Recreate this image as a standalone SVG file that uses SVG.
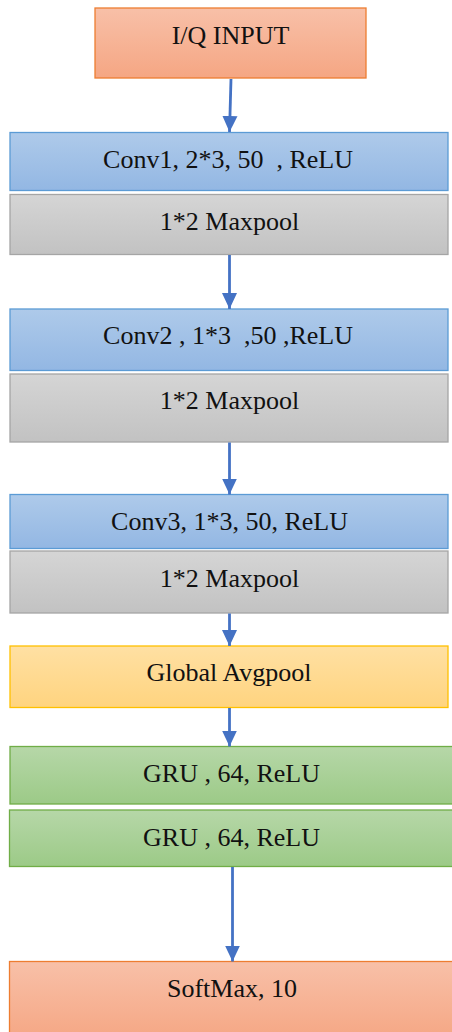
<svg xmlns="http://www.w3.org/2000/svg" width="452" height="1032" viewBox="0 0 452 1032">
<defs>
<linearGradient id="gOrange" x1="0" y1="0" x2="0" y2="1"><stop offset="0" stop-color="#F8C0A8"/><stop offset="1" stop-color="#F5A683"/></linearGradient>
<linearGradient id="gBlue" x1="0" y1="0" x2="0" y2="1"><stop offset="0" stop-color="#AECAEA"/><stop offset="1" stop-color="#93B7E3"/></linearGradient>
<linearGradient id="gGray" x1="0" y1="0" x2="0" y2="1"><stop offset="0" stop-color="#D5D5D5"/><stop offset="1" stop-color="#C2C2C2"/></linearGradient>
<linearGradient id="gYellow" x1="0" y1="0" x2="0" y2="1"><stop offset="0" stop-color="#FFE0A3"/><stop offset="1" stop-color="#FFD47F"/></linearGradient>
<linearGradient id="gGreen" x1="0" y1="0" x2="0" y2="1"><stop offset="0" stop-color="#B6D7A8"/><stop offset="1" stop-color="#9CCA87"/></linearGradient>
<marker id="arr" markerUnits="userSpaceOnUse" markerWidth="16" markerHeight="18" refX="17" refY="8" orient="auto" viewBox="0 0 17 16">
<path d="M0,0 L17,8 L0,16 Z" fill="#4472C4"/>
</marker>
</defs>
<style>
.t{font-family:"Liberation Serif","Times New Roman",serif;font-size:26px;fill:#111;text-anchor:middle}
.o{fill:url(#gOrange);stroke:#ED7D31;stroke-width:1.3}
.b{fill:url(#gBlue);stroke:#5B9BD5;stroke-width:1.3}
.g{fill:url(#gGray);stroke:#A5A5A5;stroke-width:1.3}
.y{fill:url(#gYellow);stroke:#FFC000;stroke-width:1.3}
.gr{fill:url(#gGreen);stroke:#70AD47;stroke-width:1.3}
.c{stroke:#4472C4;stroke-width:2.8;fill:none;marker-end:url(#arr)}
</style>
<g id="input"><rect class="o" x="95" y="8" width="271" height="70"/><text class="t" x="230.5" y="44">I/Q INPUT</text></g>
<g id="conv1"><rect class="b" x="10" y="132.5" width="438" height="58"/><text class="t" x="228" y="167.5" xml:space="preserve">Conv1, 2*3, 50  , ReLU</text></g>
<g id="maxpool1"><rect class="g" x="10" y="194.5" width="438" height="60"/><text class="t" x="229.5" y="229.5">1*2 Maxpool</text></g>
<g id="conv2"><rect class="b" x="10" y="309" width="438" height="61.5"/><text class="t" x="228" y="344" xml:space="preserve">Conv2 , 1*3  ,50 ,ReLU</text></g>
<g id="maxpool2"><rect class="g" x="10" y="374" width="438" height="68"/><text class="t" x="229.5" y="409">1*2 Maxpool</text></g>
<g id="conv3"><rect class="b" x="10" y="494.5" width="438" height="54"/><text class="t" x="229.5" y="530">Conv3, 1*3, 50, ReLU</text></g>
<g id="maxpool3"><rect class="g" x="10" y="551" width="438" height="62"/><text class="t" x="229.5" y="586.5">1*2 Maxpool</text></g>
<g id="avgpool"><rect class="y" x="10" y="646" width="438" height="61.5"/><text class="t" x="229" y="681">Global Avgpool</text></g>
<g id="gru1"><rect class="gr" x="10" y="746.5" width="446" height="57.5"/><text class="t" x="231.5" y="781.5">GRU , 64, ReLU</text></g>
<g id="gru2"><rect class="gr" x="9.5" y="810" width="446" height="56.5"/><text class="t" x="231.5" y="845.5">GRU , 64, ReLU</text></g>
<g id="softmax"><rect class="o" x="9.5" y="961.5" width="446" height="80"/><text class="t" x="232" y="997">SoftMax, 10</text></g>
<g id="connectors">
<line class="c" x1="231" y1="79" x2="229.5" y2="132"/>
<line class="c" x1="229.5" y1="255" x2="229.5" y2="309"/>
<line class="c" x1="229.5" y1="442.5" x2="229.5" y2="494.5"/>
<line class="c" x1="229.5" y1="613.5" x2="229.5" y2="646"/>
<line class="c" x1="229.5" y1="708" x2="229.5" y2="746.5"/>
<line class="c" x1="232.5" y1="867" x2="232.5" y2="961.5"/>
</g>
</svg>
